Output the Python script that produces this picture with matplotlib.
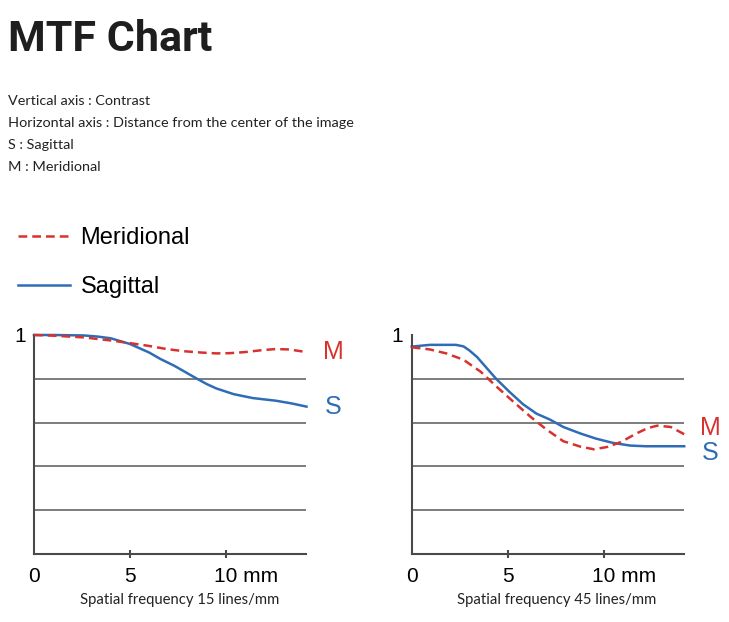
import matplotlib
matplotlib.use("Agg")
import matplotlib.pyplot as plt
from matplotlib.transforms import ScaledTranslation

# --- data (x: mm from centre, y: contrast) ---
x_15_m = [0, 1.0, 2.6, 4.0, 5.0, 6.0, 6.9, 7.8, 8.7, 9.5, 10.2, 11.0, 11.8, 12.6, 13.3, 14.2]
y_15_m = [1.0, 0.997, 0.989, 0.975, 0.963, 0.95, 0.936, 0.926, 0.92, 0.916, 0.917, 0.922, 0.93, 0.936, 0.934, 0.922]
x_15_s = [0, 1.0, 2.6, 3.3, 4.0, 5.0, 6.0, 6.6, 7.3, 7.9, 8.5, 9.0, 9.5, 10.4, 11.4, 12.6, 13.4, 14.2]
y_15_s = [1.0, 1.0, 0.998, 0.993, 0.985, 0.959, 0.92, 0.89, 0.86, 0.83, 0.80, 0.776, 0.756, 0.73, 0.712, 0.70, 0.688, 0.673]

x_45_m = [0, 0.95, 1.8, 2.7, 3.6, 4.4, 5.3, 6.2, 7.0, 7.9, 8.8, 9.5, 10.2, 10.9, 11.7, 12.3, 12.8, 13.5, 14.2]
y_45_m = [0.944, 0.934, 0.916, 0.887, 0.832, 0.766, 0.695, 0.626, 0.57, 0.515, 0.49, 0.478, 0.489, 0.511, 0.55, 0.575, 0.586, 0.58, 0.547]
x_45_s = [0, 0.95, 2.3, 2.7, 3.0, 3.4, 3.7, 4.4, 5.1, 5.8, 6.5, 7.2, 7.9, 8.8, 9.6, 10.5, 11.4, 12.2, 14.2]
y_45_s = [0.947, 0.955, 0.955, 0.948, 0.93, 0.9, 0.87, 0.80, 0.74, 0.684, 0.641, 0.614, 0.58, 0.55, 0.527, 0.507, 0.495, 0.492, 0.492]

grid_levels = [0.2, 0.4, 0.6, 0.8]
x_ticks = [0, 5, 10]
x_tick_labels = ["0", "5", "10 mm"]
panel_labels = ["Spatial frequency 15 lines/mm", "Spatial frequency 45 lines/mm"]
notes = ["Vertical axis : Contrast",
         "Horizontal axis : Distance from the center of the image",
         "S : Sagittal",
         "M : Meridional"]

RED = "#d8322f"
BLUE = "#2e6db6"
AXC = "#4a4a4a"
TEXT_FONT = ["Lato", "DejaVu Sans"]
CHART_FONT = ["Liberation Sans", "DejaVu Sans"]

W, H = 729, 622
fig = plt.figure(figsize=(W / 100, H / 100), dpi=100)


def px(x, y):
    return x / W, 1 - y / H


fig.text(*px(8, 51), "MTF Chart", family=["Roboto", "DejaVu Sans"],
         weight="bold", fontsize=31, color="#1e1e1e", va="baseline")
for i, line in enumerate(notes):
    fig.text(*px(8, 105 + 22 * i), line, family=TEXT_FONT, fontsize=10.4,
             color="#222222", va="baseline")

panels = [
    (34, (x_15_m, y_15_m), (x_15_s, y_15_s), (0, 0), (0, 0)),
    (411.7, (x_45_m, y_45_m), (x_45_s, y_45_s), (0, 4.5), (0, -4.5)),
]
axes = []
for k, (left, m, s, m_off, s_off) in enumerate(panels):
    ax = fig.add_axes([left / W, (H - 554) / H, 272.5 / W, 219 / H])
    axes.append(ax)
    for g in grid_levels:
        ax.axhline(g, color="#666666", lw=1.2, zorder=1)
    lm, = ax.plot(m[0], m[1], color=RED, lw=1.8, dashes=(3.5, 2), label="Meridional",
                  clip_on=False, zorder=3)
    ls, = ax.plot(s[0], s[1], color=BLUE, lw=1.8, label="Sagittal", clip_on=False, zorder=2)
    ax.annotate("M", xy=(m[0][-1], m[1][-1]), xytext=(19 + m_off[0], m_off[1]),
                textcoords="offset points", ha="center", va="center",
                color=RED, fontsize=18, family=CHART_FONT)
    ax.annotate("S", xy=(s[0][-1], s[1][-1]), xytext=(19 + s_off[0], s_off[1]),
                textcoords="offset points", ha="center", va="center",
                color=BLUE, fontsize=18, family=CHART_FONT)

    ax.set_xlim(0, 14.2)
    ax.set_ylim(0, 1.0)
    for side in ["top", "right"]:
        ax.spines[side].set_visible(False)
    for side in ["left", "bottom"]:
        ax.spines[side].set_color(AXC)
        ax.spines[side].set_linewidth(1.5)
    ax.set_xticks(x_ticks)
    ax.set_xticklabels(x_tick_labels, family=CHART_FONT, fontsize=15)
    ax.tick_params(axis="x", direction="inout", length=6, width=1.5, color=AXC, pad=6)
    ax.xaxis.get_major_ticks()[0].tick1line.set_visible(False)
    lab = ax.get_xticklabels()[-1]
    lab.set_ha("left")
    lab.set_transform(lab.get_transform() + ScaledTranslation(-11.5 / 100, 0, fig.dpi_scale_trans))
    ax.set_yticks([1.0])
    ax.set_yticklabels(["1"], family=CHART_FONT, fontsize=15)
    ax.tick_params(axis="y", length=0, pad=6)
    ax.set_xlabel(panel_labels[k], family=TEXT_FONT, fontsize=10.7, color="#222222")
    ax.xaxis.set_label_coords(0.533, -0.178)

fig.legend([lm, ls], ["Meridional", "Sagittal"], loc="upper left",
           bbox_to_anchor=px(18, 227), frameon=False, borderpad=0, borderaxespad=0,
           handlelength=2.2, handletextpad=0.45, labelspacing=1.15,
           prop={"family": CHART_FONT, "size": 17})

fig.savefig("out.png", dpi=100)
